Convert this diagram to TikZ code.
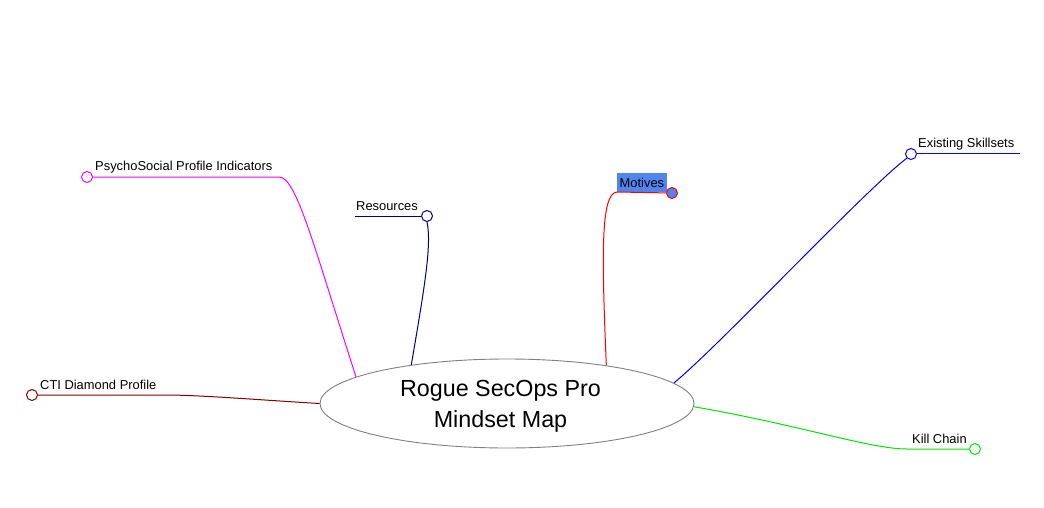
\documentclass[tikz,border=0pt]{standalone}
\usepackage{fontspec}
\setmainfont{Liberation Sans}
\usepackage{tikz}
\usetikzlibrary{shapes.geometric}
\usepackage{xcolor}
\definecolor{psyColor}{RGB}{255,0,255}
\definecolor{resColor}{RGB}{0,0,128}
\definecolor{motColor}{RGB}{255,0,0}
\definecolor{motFill}{RGB}{80,133,240}
\definecolor{skillColor}{RGB}{0,0,255}
\definecolor{killColor}{RGB}{0,230,0}
\definecolor{ctiColor}{RGB}{128,0,0}

\begin{document}
\begin{tikzpicture}[x=1pt, y=-1pt]
        % ================= 样式定义 =================
        \tikzset{
            % 中心椭圆
            hub/.style={ellipse, draw=black!50, line width=0.9pt, fill=white, minimum width=374pt, minimum height=89pt},
            % 中心文字
            hubtext/.style={align=center, inner sep=0pt, font=\fontsize{23.3}{31}\selectfont},
            % 分支端点小圆圈
            dot/.style={circle, line width=1pt, fill=white, minimum size=11pt, inner sep=0pt},
            % 分支文字
            leaf/.style={anchor=base west, inner sep=0pt, font=\fontsize{12.9}{14}\selectfont},
            % 分支连线
            branch/.style={line width=1pt}
        }

        % 画布范围
        \useasboundingbox (0,0) rectangle (1044,508);

        % ================= 中心节点 =================
        \node[hub] (center) at (507,403.5) {};
        \node[hubtext] (centerText) at (500.5,406) {Rogue SecOps Pro\\Mindset Map};

        % ================= 左侧分支 =================
        % PsychoSocial
        \node[dot, draw=psyColor] (psyDot) at (87,177) {};
        \coordinate (psyBend) at (279,177);
        \node[leaf] (psy) at (95,171) {PsychoSocial Profile Indicators};
        \draw[branch, psyColor] (center.170.4) .. controls (312,240) and (296,177) .. (psyBend) -- (psyDot);

        % CTI Diamond
        \node[dot, draw=ctiColor] (ctiDot) at (32,395) {};
        \coordinate (ctiBend) at (165,395);
        \node[leaf] (cti) at (40,389) {CTI Diamond Profile};
        \draw[branch, ctiColor] (center.180) .. controls (260,400) and (200,395) .. (ctiBend) -- (ctiDot);

        % Resources
        \node[dot, draw=resColor] (resDot) at (427,216) {};
        \coordinate (resStart) at (355,216);
        \node[leaf] (res) at (356,210) {Resources};
        \draw[branch, resColor] (resStart) -- (resDot);
        \draw[branch, resColor] (center.158.1) .. controls (424,290) and (432,245) .. (resDot.south);

        % ================= 右侧分支 =================
        % Motives (选中状态)
        \node[leaf, fill=motFill, inner xsep=2.5pt, inner ysep=5pt, text height=9pt, text depth=0pt] (mot) at (617,187) {Motives};
        \node[dot, draw=motColor, fill=motFill] (motDot) at (672,193) {};
        \coordinate (motStart) at (617,192);
        \draw[branch, motColor] (motStart) -- (motDot);
        \draw[branch, motColor] (center.21.6) .. controls (602,260) and (600,193) .. (motStart);

        % Existing Skillsets
        \node[dot, draw=skillColor] (skillDot) at (911,154) {};
        \coordinate (skillEnd) at (1020,154);
        \node[leaf] (skill) at (918,148) {Existing Skillsets};
        \draw[branch, skillColor] (skillDot) -- (skillEnd);
        \draw[branch, skillColor] (center.7.4) .. controls (720,345) and (865,190) .. (skillDot.south west);

        % Kill Chain
        \node[dot, draw=killColor] (killDot) at (975,449) {};
        \coordinate (killStart) at (907,449);
        \node[leaf] (kill) at (912,443) {Kill Chain};
        \draw[branch, killColor] (center.-1.1) .. controls (800,425) and (870,449) .. (killStart) -- (killDot);

    \end{tikzpicture}
\end{document}
